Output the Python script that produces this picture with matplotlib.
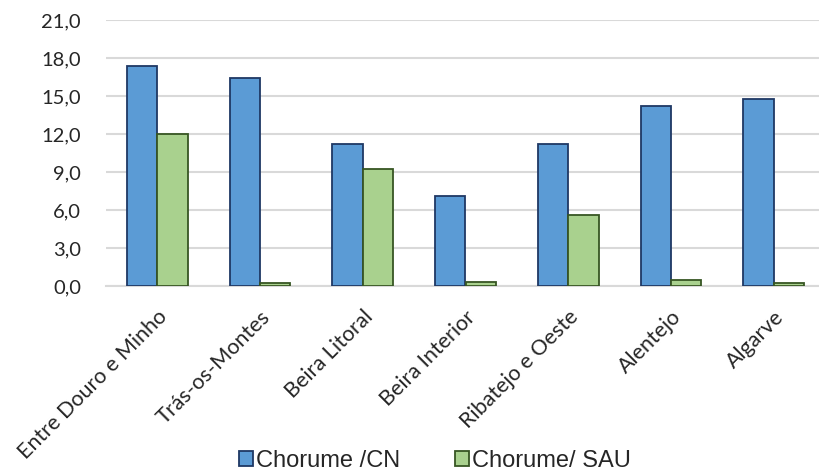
import numpy as np
import matplotlib
matplotlib.use('Agg')
import matplotlib.pyplot as plt

# Data
regions = ['Entre Douro e Minho', 'Trás-os-Montes', 'Beira Litoral', 'Beira Interior',
           'Ribatejo e Oeste', 'Alentejo', 'Algarve']
chorume_cn = [17.4, 16.4, 11.2, 7.1, 11.2, 14.2, 14.8]
chorume_sau = [12.0, 0.2, 9.2, 0.3, 5.6, 0.45, 0.2]
series_labels = ['Chorume /CN', 'Chorume/ SAU']
y_ticks = [0, 3, 6, 9, 12, 15, 18, 21]

fig = plt.figure(figsize=(8.19, 4.74), dpi=100)
# plot area runs a bit past the right edge of the image, as in the reference
ax = fig.add_axes([106 / 819, 1 - 286 / 474, 719 / 819, 266 / 474])

x = np.arange(len(regions))
w = 0.295
ax.bar(x - w / 2, chorume_cn, w, color='#5B9BD5', edgecolor='#1F3864', linewidth=1.3,
       label=series_labels[0], zorder=3)
ax.bar(x + w / 2, chorume_sau, w, color='#A9D18E', edgecolor='#375623', linewidth=1.3,
       label=series_labels[1], zorder=3)

ax.set_xlim(-0.5, len(regions) - 0.5)
ax.set_ylim(0, 21)
ax.set_yticks(y_ticks)
ax.set_yticklabels([f'{v:.1f}'.replace('.', ',') for v in y_ticks],
                   fontsize=14.5, color='#262626', family='Lato')
ax.set_xticks(x)
ax.set_xticklabels(regions, rotation=45, ha='right', rotation_mode='anchor',
                   fontsize=15.5, color='#262626', family='Lato')
ax.tick_params(length=0)
ax.tick_params(axis='y', pad=18)
ax.tick_params(axis='x', pad=15)

ax.grid(axis='y', color='#D9D9D9', linewidth=1.5, zorder=0)
for s in ['top', 'right', 'left']:
    ax.spines[s].set_visible(False)
ax.spines['bottom'].set_color('#D9D9D9')
ax.spines['bottom'].set_linewidth(1.5)

leg = fig.legend(loc='lower center', bbox_to_anchor=(0.531, -0.04), ncol=2, frameon=False,
                 prop={'family': 'Liberation Sans', 'size': 17},
                 handlelength=0.62, handleheight=0.62, handletextpad=0.12, columnspacing=2.3)
for t in leg.get_texts():
    t.set_color('#262626')

fig.savefig('out.png', dpi=100, facecolor='white')
